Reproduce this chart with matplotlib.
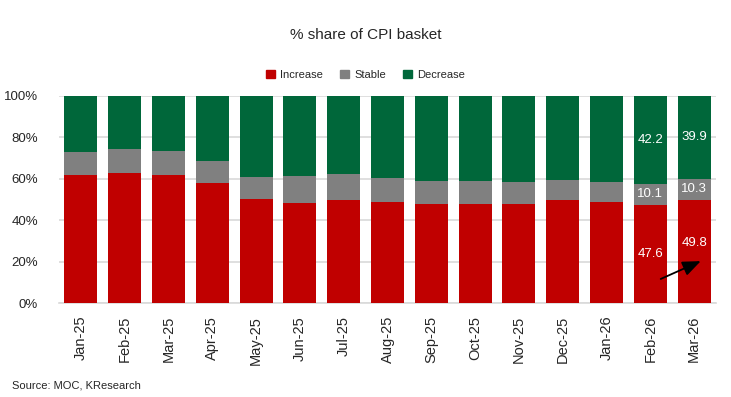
import numpy as np
import matplotlib.pyplot as plt
from matplotlib.patches import Patch

months = ["Jan-25", "Feb-25", "Mar-25", "Apr-25", "May-25", "Jun-25", "Jul-25",
          "Aug-25", "Sep-25", "Oct-25", "Nov-25", "Dec-25", "Jan-26", "Feb-26", "Mar-26"]
increase = [61.9, 62.9, 61.9, 58.0, 50.3, 48.4, 49.8, 48.9, 47.9, 47.9, 47.9, 49.8, 48.9, 47.6, 49.8]
stable = [11.1, 11.5, 11.6, 10.6, 10.7, 13.0, 12.6, 11.5, 11.1, 11.1, 10.6, 9.7, 9.6, 10.1, 10.3]
decrease = [100 - a - b for a, b in zip(increase, stable)]
decrease[13] = 42.2
decrease[14] = 39.9
labelled = [13, 14]

red = "#C00000"
grey = "#808080"
green = "#00673A"
txt = "#262626"

plt.rcParams['font.family'] = ['Liberation Sans', 'DejaVu Sans']

fig = plt.figure(figsize=(7.31, 3.97), dpi=100)
ax = fig.add_axes([59 / 731, 1 - 303.3 / 397, 657 / 731, 207.3 / 397])

x = np.arange(len(months))
inc = np.array(increase)
sta = np.array(stable)
dec = np.array(decrease)
w = 0.75
ax.bar(x, inc, w, color=red, zorder=3)
ax.bar(x, sta, w, bottom=inc, color=grey, zorder=3)
ax.bar(x, dec, w, bottom=inc + sta, color=green, zorder=3)

for i in labelled:
    dy = 4 if i == 14 else 0
    ax.text(x[i], inc[i] / 2 + dy, f"{increase[i]:.1f}", color="white", ha="center", va="center", fontsize=9.5, zorder=4)
    ax.text(x[i], inc[i] + sta[i] / 2, f"{stable[i]:.1f}", color="white", ha="center", va="center", fontsize=9.5, zorder=4)
    ax.text(x[i], inc[i] + sta[i] + dec[i] / 2, f"{decrease[i]:.1f}", color="white", ha="center", va="center", fontsize=9.5, zorder=4)

ax.annotate("", xy=(14.21, 20.9), xytext=(13.18, 11.2),
            arrowprops=dict(arrowstyle="-|>,head_length=1.1,head_width=0.45", color="black", lw=1.3), zorder=5)

ax.set_xlim(-0.5, 14.5)
ax.set_ylim(0, 100)
ax.set_yticks(np.arange(0, 101, 20))
ax.set_yticklabels([f"{v}%" for v in range(0, 101, 20)], fontsize=9.5, color=txt)
ax.set_xticks(x)
ax.set_xticklabels(months, rotation=90, fontsize=10.5, color=txt)
ax.tick_params(length=0)
ax.tick_params(axis="y", pad=15)
ax.tick_params(axis="x", pad=9)
ax.grid(axis="y", color="#d9d9d9", lw=1.2, zorder=0)
for s in ["top", "right", "left"]:
    ax.spines[s].set_visible(False)
ax.spines["bottom"].set_color("#d9d9d9")
ax.spines["bottom"].set_linewidth(1.2)

fig.text(0.5, 1 - 35 / 397, "% share of CPI basket", ha="center", va="center", fontsize=11, color=txt)
handles = [Patch(color=red, label="Increase"), Patch(color=grey, label="Stable"), Patch(color=green, label="Decrease")]
fig.legend(handles=handles, loc="center", bbox_to_anchor=(0.5, 1 - 75 / 397), ncol=3, frameon=False,
           fontsize=8, handlelength=0.8, handleheight=0.8, handletextpad=0.5,
           columnspacing=1.5, labelcolor=txt)
fig.text(12 / 731, 1 - 385 / 397, "Source: MOC, KResearch", ha="left", va="center", fontsize=8, color=txt)

fig.savefig("out.png", dpi=100)
